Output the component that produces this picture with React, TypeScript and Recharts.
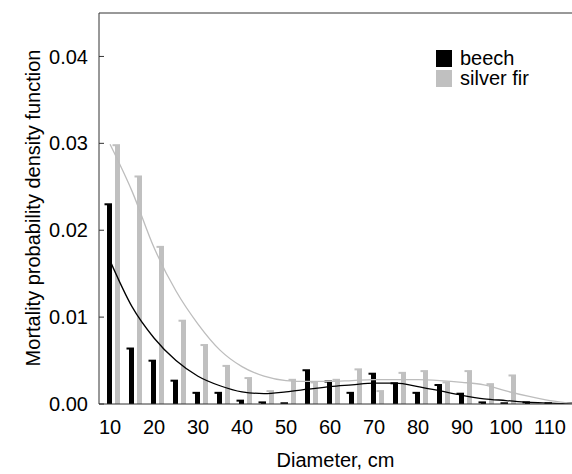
import React from 'react';
import { ComposedChart, Bar, Line, XAxis, YAxis, ReferenceLine, Legend } from 'recharts';

// diameter classes (cm) and observed densities
const diameters = [10, 15, 20, 25, 30, 35, 40, 45, 50, 55, 60, 65, 70, 75, 80, 85, 90, 95, 100, 105, 110, 115];
const beech = [0.0231, 0.0065, 0.0051, 0.0028, 0.0014, 0.0014, 0.0005, 0.0003, 0.0002, 0.004, 0.0027, 0.0014, 0.0036, 0.0025, 0.0014, 0.0023, 0.0013, 0.0003, 0.0002, 0.0003, 0.0002, 0.0002];
const silverFir = [0.0299, 0.0263, 0.0182, 0.0097, 0.0069, 0.0045, 0.0031, 0.0016, 0.0029, 0.0026, 0.0029, 0.0041, 0.0016, 0.0037, 0.0039, 0.0026, 0.0039, 0.0024, 0.0034, 0, 0, 0];

// fitted density curves
const beechFit = [0.0165, 0.0112, 0.0076, 0.005, 0.0032, 0.0021, 0.0014, 0.0012, 0.0014, 0.0017, 0.002, 0.0022, 0.0024, 0.0024, 0.002, 0.0015, 0.001, 0.0006, 0.0004, 0.0002, 0.0001, 0];
const silverFirFit = [0.0299, 0.0245, 0.018, 0.013, 0.0092, 0.0062, 0.0043, 0.0032, 0.0027, 0.0026, 0.0026, 0.0027, 0.0028, 0.0028, 0.0028, 0.0027, 0.0025, 0.0022, 0.0015, 0.0009, 0.0004, 0.0001];

const xTicks = [10, 20, 30, 40, 50, 60, 70, 80, 90, 100, 110];
const yTicks = [0, 0.01, 0.02, 0.03, 0.04];

const legendItems = [
  { name: 'beech', color: '#000000' },
  { name: 'silver fir', color: '#c0c0c0' },
];

const data = diameters.map((d, i) => ({
  d,
  beech: beech[i],
  fir: silverFir[i],
  beechFit: beechFit[i],
  firFit: silverFirFit[i],
}));

const CappedBar = (props: any) => {
  const { x, y, width, height, fill } = props;
  if (x == null || width == null || height == null) return null;
  const bx = x + 4;
  return (
    <g>
      <rect x={bx} y={y} width={width} height={Math.max(height, 0)} fill={fill} />
      <rect x={bx - 2.5} y={y} width={2.5} height={2} fill={fill} />
    </g>
  );
};

const renderLegend = () => (
  <div style={{ fontSize: 20, color: '#000', lineHeight: '20px' }}>
    {legendItems.map((it) => (
      <div key={it.name} style={{ display: 'flex', alignItems: 'center', height: 20 }}>
        <span style={{ display: 'inline-block', width: 16, height: 17, background: it.color, marginRight: 8 }} />
        <span>{it.name}</span>
      </div>
    ))}
  </div>
);

const YTitle = () => (
  <text x={39.5} y={208} transform="rotate(-90, 39.5, 208)" textAnchor="middle" fontSize={20} fill="#000">
    Mortality probability density function
  </text>
);

export default function App() {
  return (
    <div style={{ position: 'absolute', left: 0, top: 0, fontFamily: '"Liberation Sans", Arial, sans-serif', background: '#fff' }}>
      <ComposedChart width={572} height={474} data={data} margin={{ top: 13, right: 0, left: 0, bottom: 0 }} barSize={5} barGap={3}>
        <XAxis
          dataKey="d"
          type="number"
          domain={[7.5, 115]}
          ticks={xTicks}
          allowDataOverflow
          height={70}
          tickLine={false}
          tickMargin={10}
          stroke="#333"
          tick={{ fontSize: 20, fill: '#000' }}
          label={{ value: 'Diameter, cm', position: 'insideBottom', offset: 7, fontSize: 20, fill: '#000' }}
        />
        <YAxis
          type="number"
          domain={[0, 0.045]}
          ticks={yTicks}
          allowDataOverflow
          width={99}
          tickSize={-5}
          tickMargin={16}
          stroke="#333"
          tick={{ fontSize: 20, fill: '#000' }}
          tickFormatter={(v: number) => v.toFixed(2)}
          label={{ content: () => <YTitle /> }}
        />
        <ReferenceLine y={0.045} stroke="#333" ifOverflow="visible" />
        <Legend
          layout="horizontal"
          verticalAlign="middle"
          align="center"
          wrapperStyle={{ top: 48, left: 436, width: 'auto' }}
          content={renderLegend}
        />
        <Bar dataKey="beech" fill="#000000" shape={<CappedBar />} isAnimationActive={false} legendType="none" />
        <Bar dataKey="fir" fill="#c0c0c0" shape={<CappedBar />} isAnimationActive={false} legendType="none" />
        <Line dataKey="beechFit" type="monotone" stroke="#000" strokeWidth={1.3} dot={false} isAnimationActive={false} legendType="none" />
        <Line dataKey="firFit" type="monotone" stroke="#bdbdbd" strokeWidth={1.3} dot={false} isAnimationActive={false} legendType="none" />
      </ComposedChart>
    </div>
  );
}
